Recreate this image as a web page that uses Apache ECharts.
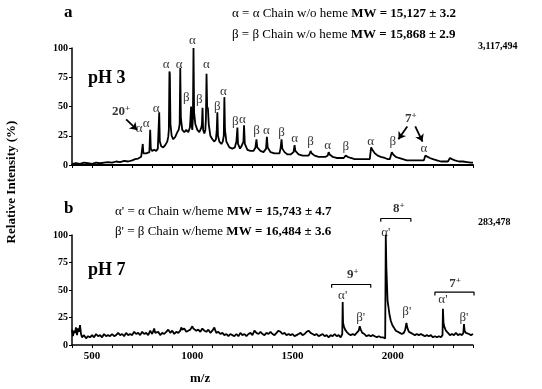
<!DOCTYPE html>
<html>
<head>
<meta charset="utf-8">
<script src="https://cdn.jsdelivr.net/npm/echarts@6/dist/echarts.min.js"></script>
<style>
  html, body { margin: 0; padding: 0; background: #fff; }
  #main { width: 542px; height: 389px; }
</style>
</head>
<body>
<div id="main"></div>
<script>
// x ticks / y ticks
const xTickLabels = [500, 1000, 1500, 2000];
const yTickLabels = [0, 25, 50, 75, 100];

// panel a, pH 3 spectrum [m/z, %]
const spectrumA = [
  [400,1],[420,1.5],[440,1],[460,2],[480,1.5],[500,1],[520,2],[540,1.5],[560,2],[580,2.5],
  [600,2],[620,3],[640,2.5],[660,3.5],[680,3],[700,4],[715,5],[730,5.5],[745,7],
  [750,8],[753,18],[756,10],[762,9],[770,10],
  [786,11],[790,30],[793,14],[800,12],[810,13],[820,12],[828,14],
  [832,15],[835,45],[838,20],[845,16],[855,15],[865,17],[875,20],[880,24],
  [883,30],[886,80],[888,78],[891,35],[897,25],[905,22],[915,24],[925,28],[932,30],
  [937,35],[940,83],[943,40],[950,30],[960,28],[970,30],[980,28],[988,32],
  [991,40],[994,50],[996,35],[1000,30],
  [1003,40],[1006,100],[1009,45],[1015,35],[1025,30],[1035,28],[1045,32],
  [1048,35],[1051,49],[1054,30],[1060,27],[1065,30],
  [1068,40],[1071,78],[1074,50],[1078,48],[1082,35],[1090,25],[1100,22],[1110,20],[1118,22],
  [1122,30],[1125,45],[1128,25],[1135,20],[1145,18],[1152,20],
  [1157,25],[1160,58],[1163,30],[1170,20],[1185,15],[1200,14],[1212,15],
  [1220,20],[1225,32],[1228,18],[1238,14],[1245,16],
  [1255,20],[1258,34],[1262,18],[1275,13],[1290,12],[1305,12],
  [1315,15],[1320,22],[1324,15],[1340,12],[1355,11],
  [1368,14],[1372,24],[1376,15],[1390,11],[1410,10],[1425,10],[1435,10],
  [1440,14],[1445,22],[1449,14],[1460,11],[1475,9],[1490,9],
  [1505,11],[1510,17],[1514,12],[1530,9],[1550,8],[1570,8],[1580,8],
  [1586,10],[1590,12],[1595,10],[1610,8],[1630,7],[1650,7],[1665,7],
  [1675,8],[1680,11],[1685,9],[1700,7],[1720,6],[1740,6],[1755,6],
  [1760,7],[1765,8],[1775,7],[1790,6],[1810,5],[1830,5],[1850,5],[1870,5],[1885,5],
  [1890,6],[1892,15],[1898,13],[1910,10],[1925,8],[1940,7],[1960,6],[1975,5],[1985,5],
  [1992,6],[1995,11],[2002,9],[2015,7],[2030,6],[2050,5],[2070,4],[2090,4],[2110,4],[2130,4],[2145,4],[2155,4],
  [2158,5],[2162,8],[2170,7],[2185,6],[2200,5],[2220,4],[2240,3],[2260,3],[2275,3],
  [2280,4],[2285,6],[2295,5],[2310,4],[2330,3],[2350,3],[2370,2.5],[2390,2],[2400,2]
];

// panel b, pH 7 spectrum [m/z, %]
const spectrumB = [
  [400,14],[405,8],[410,13],[415,11],[420,16],[425,9],[430,15],[435,12],[440,18],[445,10],
  [450,7],[460,9],[470,6],[480,8],[490,7],[500,9],[510,7],[520,10],[530,8],[540,9],
  [550,7],[560,10],[570,8],[580,9],[590,8],[600,10],[610,8],[620,9],[630,11],[640,9],
  [650,10],[660,8],[670,11],[680,9],[690,10],[700,9],[710,12],[720,10],[730,11],[740,9],
  [750,12],[760,10],[770,11],[780,9],[790,13],[800,10],[810,15],[815,11],[820,10],[830,12],
  [840,9],[850,11],[860,10],[870,12],[880,14],[890,11],[900,13],[910,10],[920,12],[930,11],
  [940,13],[945,16],[950,14],[960,15],[970,12],[980,13],[990,14],[1000,17],[1005,15],[1010,16],
  [1020,13],[1030,14],[1040,12],[1050,15],[1060,13],[1070,12],[1080,14],[1090,11],[1100,13],[1110,16],
  [1115,13],[1120,11],[1130,12],[1140,10],[1150,11],[1160,9],[1170,10],[1180,8],[1190,10],[1200,9],
  [1210,8],[1220,10],[1230,8],[1240,11],[1250,9],[1260,10],[1270,8],[1280,10],[1290,11],[1300,9],
  [1310,13],[1320,11],[1330,10],[1340,12],[1350,10],[1360,9],[1370,11],[1380,10],[1390,12],[1400,10],
  [1410,9],[1420,11],[1430,13],[1440,12],[1450,10],[1460,11],[1470,9],[1480,10],[1490,9],[1500,10],
  [1510,8],[1520,9],[1530,10],[1540,11],[1550,9],[1560,10],[1570,12],[1580,13],[1590,11],[1600,10],
  [1610,9],[1620,10],[1630,8],[1640,9],[1650,10],[1660,8],[1670,9],[1680,7],[1690,9],[1700,8],
  [1710,10],[1720,8],[1730,9],[1740,7],[1745,8],
  [1748,10],[1750,39],[1752,20],[1756,17],[1762,14],[1770,12],[1780,10],[1790,9],[1800,10],[1810,9],
  [1820,11],[1830,13],[1835,17],[1840,14],[1848,11],[1858,10],[1868,8],[1880,9],[1890,8],[1900,9],
  [1910,8],[1920,7],[1930,8],[1940,7],[1950,7],[1958,6],[1962,6],
  [1964,7],[1965,100],[1967,100],[1968,70],[1972,70],[1974,40],[1978,35],[1984,27],[1990,22],[1998,18],
  [2005,16],[2015,13],[2025,12],[2035,11],[2045,10],[2055,11],[2062,14],[2068,20],[2072,16],[2080,12],
  [2090,11],[2100,10],[2110,9],[2120,10],[2130,9],[2140,10],[2150,9],[2160,8],[2170,9],[2180,8],
  [2190,9],[2200,7],[2210,8],[2220,7],[2230,8],[2240,7],[2246,8],
  [2248,9],[2250,33],[2253,20],[2258,16],[2265,13],[2275,11],[2285,9],[2295,10],[2305,9],[2315,11],
  [2325,9],[2335,10],[2345,9],[2352,11],[2355,19],[2358,13],[2365,11],[2372,12],[2380,10],[2390,9],[2400,10]
];

// peak labels [m/z, %, text]
const labelsA = [
  [735,31,'α'],[770,35,'α'],[820,48,'α'],[870,86,'α'],[935,86,'α'],[1000,106,'α'],
  [970,58,'β'],[1035,56,'β'],[1070,86,'α'],[1125,50,'β'],[1155,63,'α'],[1215,37,'β'],
  [1250,39,'α'],[1320,29,'β'],[1370,29,'α'],[1445,28,'β'],[1510,23,'α'],[1590,20,'β'],
  [1675,17,'α'],[1765,16,'β'],[1890,20,'α'],[2000,20,'β'],[2155,14,'α'],
  [645,46,'{n|20}{s|+}'],[2090,40,'{n|7}{s|+}']
];
const labelsB = [
  [1800,64,'{n|9}{s|+}'],[1750,45,"α'"],[1840,25,"β'"],
  [2030,124,'{n|8}{s|+}'],[1965,102,"α'"],[2070,30,"β'"],
  [2310,56,'{n|7}{s|+}'],[2250,41,"α'"],[2355,25,"β'"]
];
// arrows [fromX, fromY, toX, toY]
const arrowsA = [[670,39,725,30],[2072,33,2028,22],[2112,33,2148,20]];
// brackets [x1, x2, y]
const bracketsB = [[1695,1890,55],[1940,2090,115],[2210,2405,48]];

const serif = '"Liberation Serif", "DejaVu Serif", serif';
const chart = echarts.init(document.getElementById('main'));

function xAxisOf(gridIndex, showLabels) {
  return {
    type: 'value', gridIndex: gridIndex, min: 400, max: 2400, interval: 100,
    axisLine: {lineStyle: {color: '#000', width: gridIndex === 0 ? 2 : 1.5}},
    axisTick: {show: true, length: 3, inside: false, lineStyle: {color: '#000'}},
    axisLabel: {
      show: showLabels, margin: 6, color: '#000', fontFamily: serif, fontWeight: 'bold', fontSize: 11,
      formatter: function (v) { return xTickLabels.indexOf(v) >= 0 ? String(v) : ''; }
    },
    splitLine: {show: false}
  };
}
function yAxisOf(gridIndex) {
  return {
    type: 'value', gridIndex: gridIndex, min: 0, max: 100, interval: 25,
    axisLine: {show: true, lineStyle: {color: '#000', width: 1.5}},
    axisTick: {show: true, length: 3, lineStyle: {color: '#000'}},
    axisLabel: {
      margin: 4, color: '#000', fontFamily: serif, fontWeight: 'bold', fontSize: 10,
      formatter: function (v) { return yTickLabels.indexOf(v) >= 0 ? String(v) : ''; }
    },
    splitLine: {show: false}
  };
}
function labelSeries(idx, list) {
  return {
    type: 'scatter', xAxisIndex: idx, yAxisIndex: idx, symbolSize: 0, clip: false, silent: true,
    itemStyle: {color: '#000'},
    data: list.map(function (d) { return {value: [d[0], d[1]], name: d[2]}; }),
    label: {
      show: true, position: 'inside', formatter: '{b}', color: '#000', textBorderWidth: 0,
      fontFamily: serif, fontSize: 13,
      rich: {
        n: {fontSize: 13, fontWeight: 'bold', fontFamily: serif, color: '#000', textBorderWidth: 0},
        s: {fontSize: 9, fontWeight: 'bold', verticalAlign: 'top', fontFamily: serif, color: '#000', textBorderWidth: 0, padding: [0, 0, 6, 0]}
      }
    }
  };
}
function bracketSeries(list) {
  return list.map(function (b) {
    return {
      type: 'line', xAxisIndex: 1, yAxisIndex: 1, clip: false, silent: true, symbol: 'none',
      lineStyle: {color: '#000', width: 1.2},
      data: [[b[0], b[2] - 3], [b[0], b[2]], [b[1], b[2]], [b[1], b[2] - 3]]
    };
  });
}

const option = {
  animation: false,
  backgroundColor: '#fff',
  grid: [
    {left: 72, top: 48, width: 401, height: 117},
    {left: 72, top: 235, width: 401, height: 110}
  ],
  xAxis: [xAxisOf(0, false), xAxisOf(1, true)],
  yAxis: [yAxisOf(0), yAxisOf(1)],
  series: [
    {
      type: 'line', xAxisIndex: 0, yAxisIndex: 0, data: spectrumA, symbol: 'none',
      lineStyle: {color: '#000', width: 1.8}, clip: false,
      markLine: {
        silent: true, symbol: ['none', 'arrow'], symbolSize: 7, label: {show: false},
        lineStyle: {color: '#000', width: 1.8, type: 'solid'},
        data: arrowsA.map(function (a) { return [{coord: [a[0], a[1]]}, {coord: [a[2], a[3]]}]; })
      }
    },
    {
      type: 'line', xAxisIndex: 1, yAxisIndex: 1, data: spectrumB, symbol: 'none',
      lineStyle: {color: '#000', width: 1.8}, clip: false
    },
    labelSeries(0, labelsA),
    labelSeries(1, labelsB)
  ].concat(bracketSeries(bracketsB)),
  graphic: [
    {type: 'text', left: 64, top: 4, style: {text: 'a', font: 'bold 17px ' + serif, fill: '#000'}},
    {type: 'text', left: 232, top: 7, style: {
      text: '{n|α = α Chain w/o heme }{b|MW = 15,127 ± 3.2}', fill: '#000',
      rich: {n: {font: '13px ' + serif}, b: {font: 'bold 13px ' + serif}}}},
    {type: 'text', left: 232, top: 28, style: {
      text: '{n|β = β Chain w/o heme }{b|MW = 15,868 ± 2.9}', fill: '#000',
      rich: {n: {font: '13px ' + serif}, b: {font: 'bold 13px ' + serif}}}},
    {type: 'text', left: 478, top: 41, style: {text: '3,117,494', font: 'bold 10px ' + serif, fill: '#000'}},
    {type: 'text', left: 88, top: 69, style: {text: 'pH 3', font: 'bold 18px ' + serif, fill: '#000'}},
    {type: 'text', left: 64, top: 200, style: {text: 'b', font: 'bold 17px ' + serif, fill: '#000'}},
    {type: 'text', left: 115, top: 205, style: {
      text: "{n|α' = α Chain w/heme }{b|MW = 15,743 ± 4.7}", fill: '#000',
      rich: {n: {font: '13px ' + serif}, b: {font: 'bold 13px ' + serif}}}},
    {type: 'text', left: 115, top: 225, style: {
      text: "{n|β' = β Chain w/heme }{b|MW = 16,484 ± 3.6}", fill: '#000',
      rich: {n: {font: '13px ' + serif}, b: {font: 'bold 13px ' + serif}}}},
    {type: 'text', left: 478, top: 217, style: {text: '283,478', font: 'bold 10px ' + serif, fill: '#000'}},
    {type: 'text', left: 88, top: 261, style: {text: 'pH 7', font: 'bold 18px ' + serif, fill: '#000'}},
    {type: 'text', x: 12, y: 182, rotation: Math.PI / 2, style: {
      text: 'Relative Intensity (%)', font: 'bold 13px ' + serif, fill: '#000',
      align: 'center', verticalAlign: 'middle'}},
    {type: 'text', left: 190, top: 372, style: {text: 'm/z', font: 'bold 13px ' + serif, fill: '#000'}}
  ]
};
chart.setOption(option);
</script>
</body>
</html>
